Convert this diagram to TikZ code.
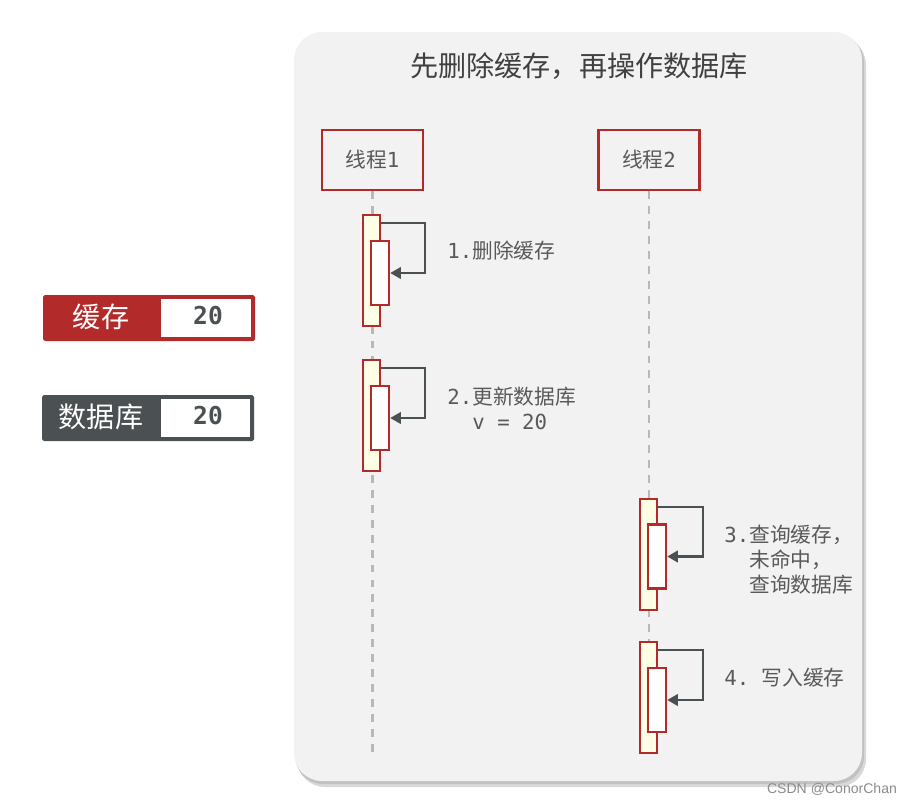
\documentclass[tikz,border=0pt]{standalone}
\usepackage{fontspec}
\setmainfont{Noto Sans CJK SC}
\setmonofont{DejaVu Sans Mono}
\setsansfont{Liberation Sans}
\usetikzlibrary{positioning,arrows.meta}
\definecolor{hmred}{HTML}{B22B2A}
\definecolor{hmgray}{HTML}{4B5152}
\definecolor{panelgray}{HTML}{F2F2F2}
\definecolor{actyellow}{HTML}{FFFFE6}
\definecolor{txtgray}{HTML}{595959}
\tikzset{
  thread/.style={draw=hmred,line width=1.4pt,fill=panelgray,minimum width=2.02cm,
    minimum height=1.2cm,inner sep=0pt,text=txtgray,font=\fontsize{11.8}{13}\selectfont},
  actout/.style={draw=hmred,line width=1.4pt,fill=actyellow,minimum width=0.34cm,
    minimum height=2.22cm,inner sep=0pt},
  actin/.style={draw=hmred,line width=1.4pt,fill=white,minimum width=0.36cm,
    minimum height=1.28cm,inner sep=0pt},
  lifeline/.style={draw=black!28,line width=1.2pt,dash pattern=on 4.5pt off 4pt},
  selfloop/.style={draw=hmgray,line width=1.3pt,-{Triangle[length=6pt,width=6.5pt]}},
  note/.style={anchor=west,inner sep=0pt,text=txtgray,align=left,
    font=\fontsize{11.8}{14.2}\selectfont},
  valbox/.style={text=hmgray,font=\fontsize{14}{16}\selectfont\ttfamily\bfseries}
}

\begin{document}
\begin{tikzpicture}[x=0.02cm,y=-0.02cm]
\useasboundingbox (0,0) rectangle (910,805);
%
% panel with shadow
\fill[black!30,opacity=0.5,rounded corners=0.56cm] (297,37) rectangle (866,787);
\fill[black!30,opacity=0.6,rounded corners=0.56cm] (295,34) rectangle (864,784);
\fill[panelgray,rounded corners=0.56cm] (294,32) rectangle (862,781);
\node[text=black!75,font=\fontsize{16}{19}\selectfont] (title) at (579,66) {先删除缓存，再操作数据库};
%
% cache and database values
\fill[hmred,rounded corners=1pt] (43,295) rectangle (255,341);
\fill[white] (161,299) rectangle (251,337);
\node[text=white,font=\fontsize{16}{19}\selectfont] (cache) at (101,317) {缓存};
\node[valbox] (cacheval) at (208,316) {20};
\fill[hmgray,rounded corners=1pt] (42,395) rectangle (254,441);
\fill[white] (161,399) rectangle (250,437);
\node[text=white,font=\fontsize{16}{19}\selectfont] (db) at (101,417) {数据库};
\node[valbox] (dbval) at (208,416) {20};
%
% threads
\node[thread] (t1) at (372.5,160) {线程{\ttfamily 1}};
\node[thread] (t2) at (649,160) {线程{\ttfamily 2}};
\coordinate (e1) at (372.5,757);
\coordinate (e2) at (649,757);
\draw[lifeline] (t1.south) -- (e1);
\draw[lifeline] (t2.south) -- (e2);
%
% activations
\node[actout] (a1o) at (371.5,270.5) {};
\node[actin] (a1i) at (380,273) {};
\node[actout] (a2o) at (371.5,415.5) {};
\node[actin] (a2i) at (380,418) {};
\node[actout] (a3o) at (648.5,554.5) {};
\node[actin] (a3i) at (657,556.5) {};
\node[actout] (a4o) at (648.5,697.5) {};
\node[actin] (a4i) at (657,700) {};
%
\draw[selfloop] ([yshift=-0.18cm]a1o.north east) -- ++(44,0) |- (a1i.east);
\draw[selfloop] ([yshift=-0.18cm]a2o.north east) -- ++(44,0) |- (a2i.east);
\draw[selfloop] ([yshift=-0.18cm]a3o.north east) -- ++(45,0) |- (a3i.east);
\draw[selfloop] ([yshift=-0.18cm]a4o.north east) -- ++(45,0) |- (a4i.east);
%
\node[note] (n1) at (447,251) {{\ttfamily 1.}删除缓存};
\node[note] (n2) at (447,408) {{\ttfamily 2.}更新数据库\\{\ttfamily\phantom{2.}v = 20}};
\node[note] (n3) at (724,560) {{\ttfamily 3.}查询缓存，\\{\ttfamily\phantom{3.}}未命中，\\{\ttfamily\phantom{3.}}查询数据库};
\node[note] (n4) at (724,678) {{\ttfamily 4. }写入缓存};
%
\node[text=black!45,font=\fontsize{8}{10}\sffamily] (mark) at (832,789) {CSDN @ConorChan};
\end{tikzpicture}
\end{document}
